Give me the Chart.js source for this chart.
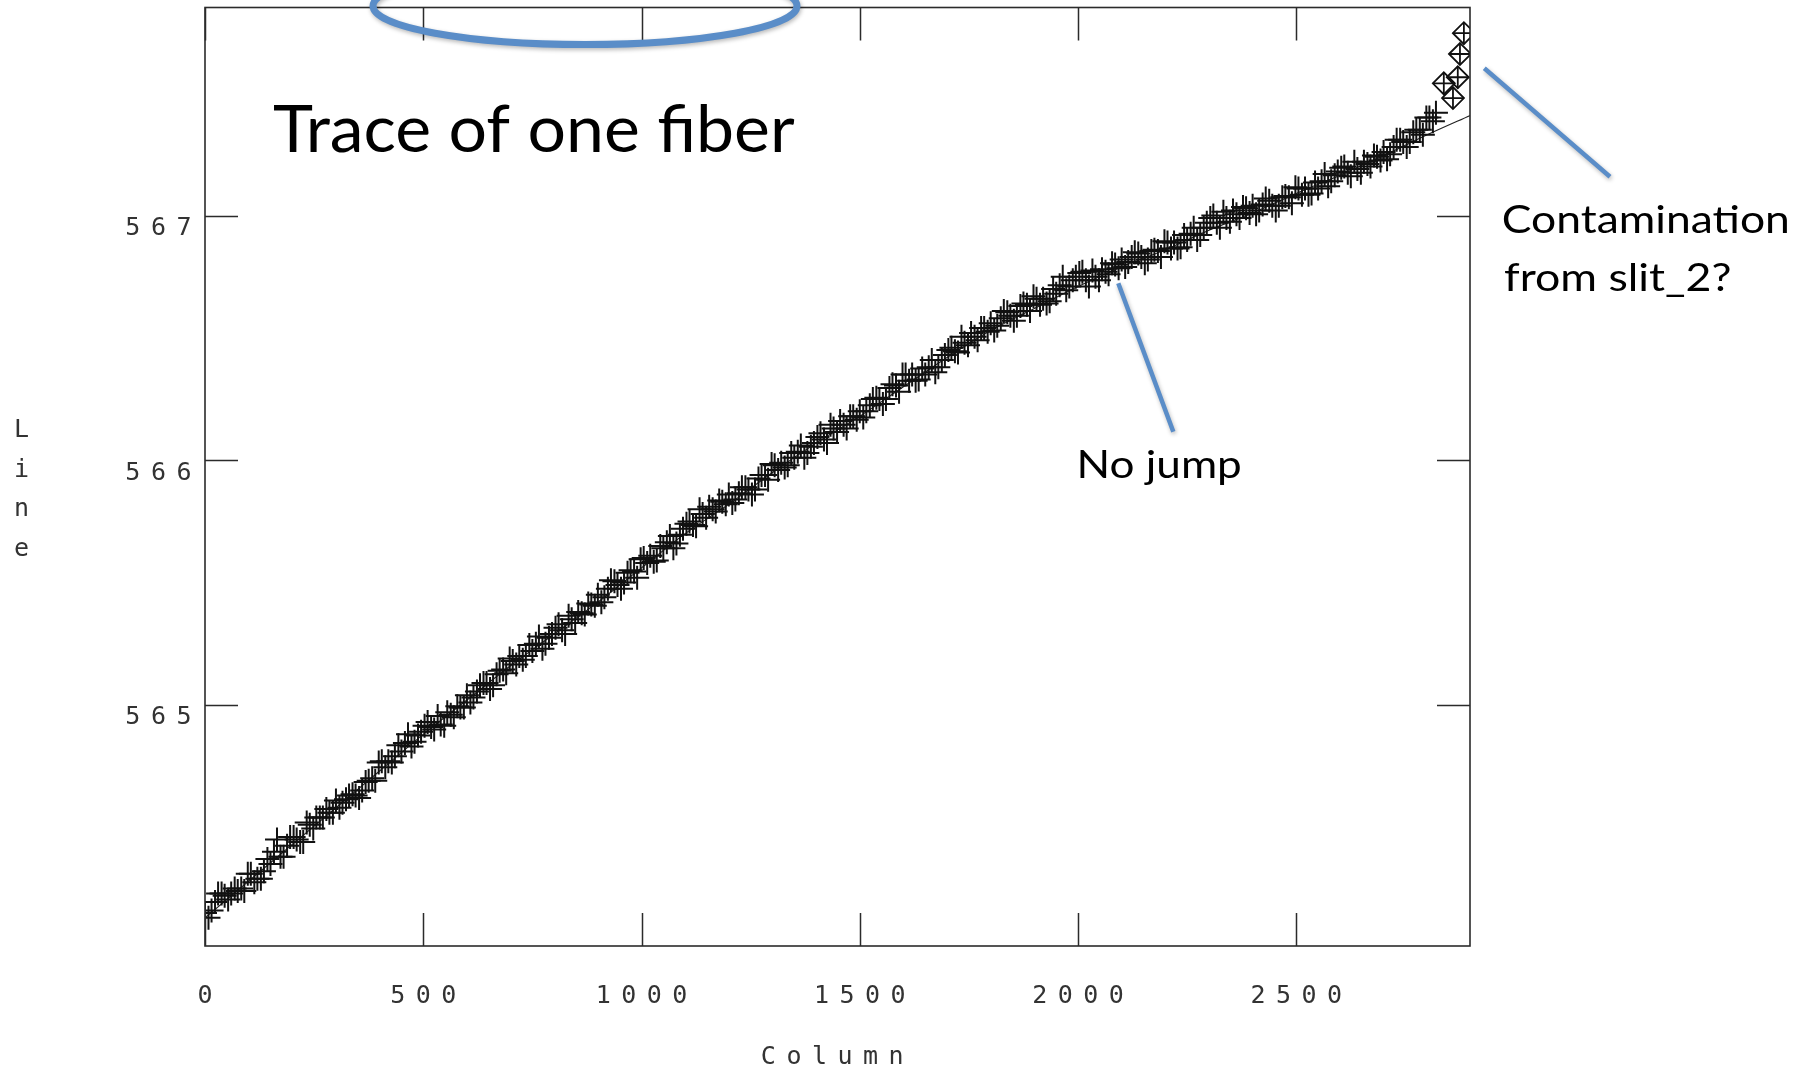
<!DOCTYPE html>
<html>
<head>
<meta charset="utf-8">
<script src="https://cdn.jsdelivr.net/npm/chart.js@4.4.1/dist/chart.umd.min.js"></script>
<style>
html,body{margin:0;padding:0;background:#fff;overflow:hidden}
#wrap{position:relative;width:1809px;height:1068px}
</style>
</head>
<body>
<div id="wrap"><canvas id="c" width="1809" height="1068"></canvas></div>
<script>
// ---------------- data ----------------
const xTitle = 'Column';
const yTitle = 'Line';
const xRange = [0, 2898];
const yRange = [564.015, 567.85];
const xTickValues = [0, 500, 1000, 1500, 2000, 2500];
const yTickValues = [565, 566, 567];

// fitted trace (thin line)
const fitColumns = [0,100,200,300,400,500,600,700,800,900,1000,1100,1200,1300,1400,1500,1600,1700,1800,1900,2000,2100,2200,2300,2400,2500,2600,2700,2800,2900];
const fitLines   = [564.13,564.28,564.43,564.58,564.73,564.88,565.02,565.16,565.29,565.42,565.56,565.70,565.82,565.95,566.07,566.18,566.30,566.42,566.53,566.62,566.71,566.79,566.86,566.94,567.01,567.09,567.165,567.245,567.33,567.41];

// measured centroids (+ markers), first set of columns
const traceColumnsA = [
  0,15,30,45,60,75,90,105,120,135,
  150,165,180,195,210,225,240,255,270,285,
  300,315,330,345,360,375,390,405,420,435,
  450,465,480,495,510,525,540,555,570,585,
  600,615,630,645,660,675,690,705,720,735,
  750,765,780,795,810,825,840,855,870,885,
  900,915,930,945,960,975,990,1005,1020,1035,
  1050,1065,1080,1095,1110,1125,1140,1155,1170,1185,
  1200,1215,1230,1245,1260,1275,1290,1305,1320,1335,
  1350,1365,1380,1395,1410,1425,1440,1455,1470,1485,
  1500,1515,1530,1545,1560,1575,1590,1605,1620,1635,
  1650,1665,1680,1695,1710,1725,1740,1755,1770,1785,
  1800,1815,1830,1845,1860,1875,1890,1905,1920,1935,
  1950,1965,1980,1995,2010,2025,2040,2055,2070,2085,
  2100,2115,2130,2145,2160,2175,2190,2205,2220,2235,
  2250,2265,2280,2295,2310,2325,2340,2355,2370,2385,
  2400,2415,2430,2445,2460,2475,2490,2505,2520,2535,
  2550,2565,2580,2595,2610,2625,2640,2655,2670,2685,
  2700,2715,2730,2745,2760,2775,2790,2805,2820
];
const traceLinesA = [
  564.15,564.16,564.23,564.22,564.23,564.24,564.24,564.31,564.29,564.32,
  564.35,564.45,564.38,564.46,564.45,564.44,564.51,564.54,564.54,564.56,
  564.61,564.60,564.63,564.63,564.65,564.69,564.69,564.77,564.77,564.79,
  564.81,564.88,564.85,564.89,564.93,564.90,564.92,564.97,564.95,564.99,
  565.04,565.03,565.08,565.09,565.08,565.14,565.13,565.18,565.20,565.20,
  565.22,565.28,565.25,565.29,565.33,565.29,565.35,565.38,565.37,565.41,
  565.45,565.44,565.51,565.49,565.50,565.55,565.52,565.60,565.61,565.59,
  565.64,565.69,565.66,565.72,565.75,565.73,565.78,565.81,565.79,565.83,
  565.86,565.84,565.89,565.88,565.88,565.94,565.92,565.98,565.99,565.98,
  566.01,566.06,566.03,566.07,566.11,566.07,566.13,566.16,566.13,566.18,
  566.20,566.20,566.25,566.25,566.25,566.31,566.28,566.35,566.35,566.33,
  566.35,566.41,566.38,566.43,566.46,566.44,566.48,566.52,566.49,566.54,
  566.56,566.55,566.61,566.59,566.59,566.64,566.61,566.66,566.66,566.65,
  566.68,566.75,566.71,566.75,566.77,566.71,566.75,566.78,566.76,566.80,
  566.82,566.81,566.85,566.83,566.82,566.86,566.83,566.89,566.89,566.87,
  566.90,566.95,566.92,566.97,567.00,566.95,566.99,567.02,566.99,567.03,
  567.04,567.02,567.07,567.04,567.04,567.08,567.05,567.11,567.11,567.09,
  567.11,567.17,567.14,567.18,567.20,567.16,567.19,567.22,567.20,567.24,
  567.26,567.25,567.31,567.30,567.30,567.35,567.33,567.40,567.42
];

// measured centroids (+ markers), interleaved columns
const traceColumnsB = [
  8,23,38,53,68,83,98,113,128,143,
  158,173,188,203,218,233,248,263,278,293,
  308,323,338,353,368,383,398,413,428,443,
  458,473,488,503,518,533,548,563,578,593,
  608,623,638,653,668,683,698,713,728,743,
  758,773,788,803,818,833,848,863,878,893,
  908,923,938,953,968,983,998,1013,1028,1043,
  1058,1073,1088,1103,1118,1133,1148,1163,1178,1193,
  1208,1223,1238,1253,1268,1283,1298,1313,1328,1343,
  1358,1373,1388,1403,1418,1433,1448,1463,1478,1493,
  1508,1523,1538,1553,1568,1583,1598,1613,1628,1643,
  1658,1673,1688,1703,1718,1733,1748,1763,1778,1793,
  1808,1823,1838,1853,1868,1883,1898,1913,1928,1943,
  1958,1973,1988,2003,2018,2033,2048,2063,2078,2093,
  2108,2123,2138,2153,2168,2183,2198,2213,2228,2243,
  2258,2273,2288,2303,2318,2333,2348,2363,2378,2393,
  2408,2423,2438,2453,2468,2483,2498,2513,2528,2543,
  2558,2573,2588,2603,2618,2633,2648,2663,2678,2693,
  2708,2723,2738,2753,2768,2783,2798,2813
];
const traceLinesB = [
  564.13,564.195,564.23,564.205,564.25,564.25,564.31,564.275,564.29,564.37,
  564.40,564.38,564.425,564.46,564.44,564.52,564.495,564.54,564.575,564.56,
  564.58,564.615,564.635,564.62,564.685,564.70,564.765,564.745,564.765,564.835,
  564.845,564.83,564.875,564.915,564.91,564.955,564.915,564.96,564.995,564.99,
  565.01,565.055,565.09,565.065,565.125,565.145,565.19,565.165,565.185,565.245,
  565.25,565.23,565.275,565.315,565.305,565.365,565.335,565.375,565.415,565.405,
  565.42,565.475,565.505,565.475,565.54,565.545,565.595,565.58,565.585,565.65,
  565.665,565.64,565.695,565.74,565.735,565.80,565.765,565.80,565.835,565.82,
  565.825,565.865,565.89,565.86,565.925,565.94,565.985,565.96,565.97,566.03,
  566.035,566.01,566.055,566.095,566.085,566.145,566.115,566.145,566.18,566.165,
  566.175,566.225,566.255,566.23,566.295,566.305,566.35,566.325,566.325,566.375,
  566.38,566.36,566.41,566.45,566.445,566.505,566.47,566.505,566.54,566.525,
  566.53,566.58,566.605,566.57,566.63,566.635,566.67,566.635,566.64,566.70,
  566.715,566.695,566.735,566.765,566.735,566.775,566.735,566.77,566.805,566.785,
  566.79,566.83,566.845,566.805,566.855,566.855,566.895,566.865,566.865,566.92,
  566.925,566.90,566.95,566.99,566.97,567.015,566.975,567.005,567.035,567.01,
  567.005,567.045,567.06,567.02,567.075,567.075,567.115,567.085,567.085,567.135,
  567.14,567.12,567.165,567.195,567.175,567.22,567.175,567.21,567.245,567.225,
  567.23,567.28,567.31,567.28,567.34,567.35,567.40,567.385
];

// rejected points near the edge (diamond markers)
const rejectColumns = [2838,2859,2870,2875,2884];
const rejectLines   = [567.54,567.48,567.565,567.66,567.745];

// overlay annotations (text)
const titleNote = 'Trace of one fiber';
const jumpNote = 'No jump';
const contamNote = ['Contamination', 'from slit_2?'];

// ---------------- chart ----------------
const pts = (xs, ys) => xs.map((v, i) => ({x: v, y: ys[i]}));
const monoFont = '"DejaVu Sans Mono", "Liberation Mono", monospace';
const noteFont = 'Lato, "Open Sans", sans-serif';
const blue = '#5a8dc8';
const spacing = 10.5;

function fitText(ctx, text, left, baseline, size, inkWidth) {
  ctx.save();
  ctx.textAlign = 'left';
  ctx.textBaseline = 'alphabetic';
  ctx.font = size + 'px ' + noteFont;
  const m = ctx.measureText(text);
  const w = m.actualBoundingBoxLeft + m.actualBoundingBoxRight;
  const sx = inkWidth / w;
  ctx.translate(left, baseline);
  ctx.scale(sx, 1);
  ctx.fillStyle = '#000';
  ctx.fillText(text, m.actualBoundingBoxLeft, 0);
  ctx.restore();
}

const framePlugin = {
  id: 'frame',
  beforeDraw(chart) {
    chart.ctx.letterSpacing = spacing + 'px';
  },
  afterDraw(chart) {
    const {ctx, chartArea: a, scales: {x, y}} = chart;
    ctx.save();
    ctx.letterSpacing = '0px';
    // frame
    ctx.strokeStyle = '#2b2b2b';
    ctx.lineWidth = 1.6;
    ctx.strokeRect(a.left, a.top, a.right - a.left, a.bottom - a.top);
    // inward tick marks on all four sides
    const L = 33;
    ctx.beginPath();
    x.ticks.forEach(t => {
      const p = Math.round(x.getPixelForValue(t.value)) + 0.5;
      ctx.moveTo(p, a.bottom); ctx.lineTo(p, a.bottom - L);
      ctx.moveTo(p, a.top); ctx.lineTo(p, a.top + L);
    });
    y.ticks.forEach(t => {
      const p = Math.round(y.getPixelForValue(t.value)) + 0.5;
      ctx.moveTo(a.left, p); ctx.lineTo(a.left + L, p);
      ctx.moveTo(a.right, p); ctx.lineTo(a.right - L, p);
    });
    ctx.lineWidth = 1.5;
    ctx.stroke();

    // stacked y-axis title
    ctx.font = '25px ' + monoFont;
    ctx.fillStyle = '#333';
    ctx.textAlign = 'center';
    ctx.textBaseline = 'alphabetic';
    const base = [437, 476.5, 516, 556];
    yTitle.split('').forEach((ch, i) => ctx.fillText(ch, 21.5, base[i]));

    // annotation overlays
    fitText(ctx, titleNote, 273, 151.7, 65, 522);
    fitText(ctx, jumpNote, 1080, 477.5, 38.5, 160);
    fitText(ctx, contamNote[0], 1503, 233.3, 38.5, 284);
    fitText(ctx, contamNote[1], 1504, 290.7, 38.5, 226);

    ctx.shadowColor = 'rgba(0,0,0,0.28)';
    ctx.shadowBlur = 4;
    ctx.shadowOffsetX = 1;
    ctx.shadowOffsetY = 2;
    ctx.strokeStyle = blue;
    ctx.lineCap = 'butt';
    ctx.lineWidth = 4.5;
    ctx.beginPath();
    ctx.moveTo(1118.3, 283.3); ctx.lineTo(1173.3, 431.7);
    ctx.moveTo(1484.3, 68.3); ctx.lineTo(1610, 176.7);
    ctx.stroke();
    ctx.lineWidth = 7;
    ctx.beginPath();
    ctx.ellipse(585, 6, 212, 38.5, 0, 0, Math.PI * 2);
    ctx.stroke();
    ctx.restore();
  }
};

const crossStyle = {
  showLine: false,
  pointStyle: 'cross',
  pointRadius: 12,
  pointBorderWidth: 2,
  borderColor: '#111',
  pointBorderColor: '#111',
  clip: 0,
  order: 2
};

const chart = new Chart(document.getElementById('c'), {
  type: 'scatter',
  data: {
    datasets: [
      {
        label: 'fit',
        data: pts(fitColumns, fitLines),
        showLine: true,
        borderColor: '#222',
        borderWidth: 1.1,
        pointRadius: 0,
        tension: 0.3,
        clip: 0,
        order: 3
      },
      Object.assign({label: 'trace A', data: pts(traceColumnsA, traceLinesA)}, crossStyle),
      Object.assign({label: 'trace B', data: pts(traceColumnsB, traceLinesB)}, crossStyle),
      {
        label: 'rejected',
        data: pts(rejectColumns, rejectLines),
        showLine: false,
        pointStyle: 'rectRot',
        pointRadius: 11,
        pointBorderWidth: 1.8,
        pointBorderColor: '#111',
        pointBackgroundColor: 'rgba(0,0,0,0)',
        clip: 0,
        order: 1
      },
      {
        label: 'rejected-cross',
        data: pts(rejectColumns, rejectLines),
        showLine: false,
        pointStyle: 'cross',
        pointRadius: 11,
        pointBorderWidth: 1.8,
        pointBorderColor: '#111',
        clip: 0,
        order: 0
      }
    ]
  },
  options: {
    responsive: false,
    animation: false,
    devicePixelRatio: 1,
    layout: {autoPadding: false, padding: {left: 0, right: 339, top: 7.5, bottom: 0}},
    plugins: {legend: {display: false}, tooltip: {enabled: false}},
    scales: {
      x: {
        type: 'linear',
        position: 'bottom',
        min: xRange[0],
        max: xRange[1],
        grid: {display: false, drawTicks: false},
        border: {display: false},
        afterBuildTicks(s) { s.ticks = xTickValues.map(v => ({value: v})); },
        ticks: {
          autoSkip: false,
          maxRotation: 0,
          padding: 35,
          labelOffset: spacing / 2,
          color: '#333',
          font: {family: monoFont, size: 25},
          callback: v => String(v)
        },
        title: {
          display: true,
          text: xTitle,
          color: '#333',
          font: {family: monoFont, size: 25},
          padding: {top: 0, bottom: -4}
        },
        afterFit(s) { s.height = 122; s.paddingLeft = 0; s.paddingRight = 0; }
      },
      y: {
        type: 'linear',
        position: 'left',
        min: yRange[0],
        max: yRange[1],
        grid: {display: false, drawTicks: false},
        border: {display: false},
        afterBuildTicks(s) { s.ticks = yTickValues.map(v => ({value: v})); },
        ticks: {
          padding: 3,
          labelOffset: 13,
          color: '#333',
          font: {family: monoFont, size: 25, lineHeight: 0.4},
          callback: v => String(v)
        },
        title: {display: false},
        afterFit(s) { s.width = 205; s.paddingTop = 0; s.paddingBottom = 0; }
      }
    }
  },
  plugins: [framePlugin]
});
</script>
</body>
</html>
